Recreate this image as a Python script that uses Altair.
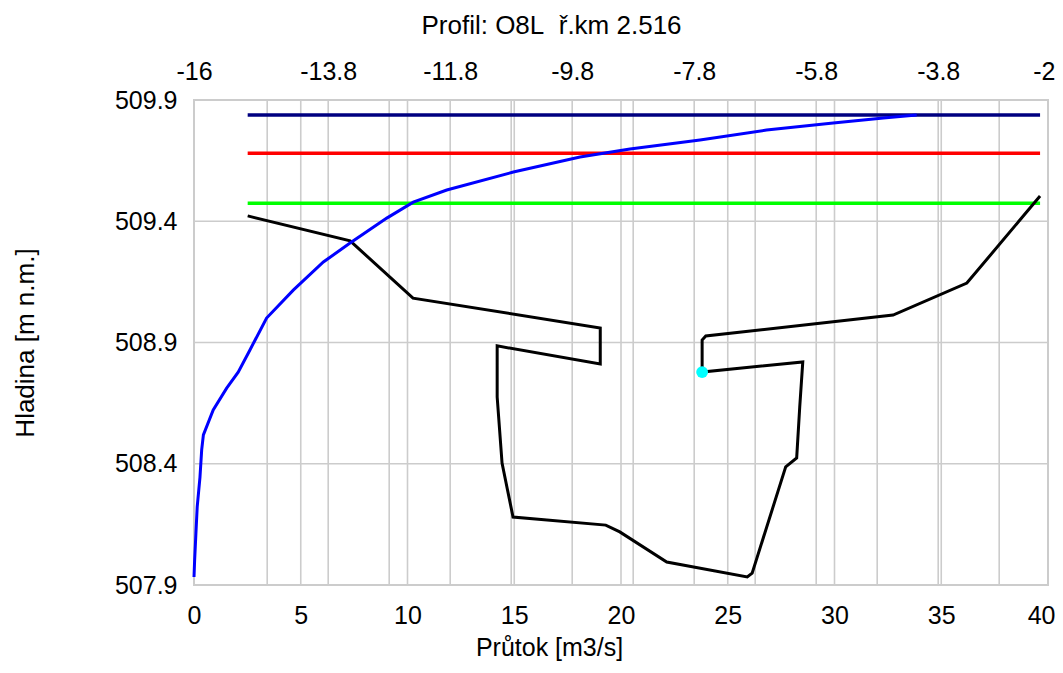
import altair as alt
import pandas as pd

# ---- data ----
# rating curve (bottom axis: discharge Q, left axis: level H)
rating_q = [0.0, 0.03, 0.09, 0.15, 0.28, 0.36, 0.44, 0.90, 1.53, 2.07, 2.62, 3.40, 4.65,
            6.06, 7.31, 9.03, 10.27, 11.84, 14.96, 18.08, 20.42, 23.70, 26.82, 29.94,
            32.29, 33.85]
rating_h = [507.933, 508.003, 508.114, 508.222, 508.345, 508.457, 508.519, 508.622,
            508.712, 508.778, 508.869, 509.001, 509.116, 509.232, 509.310, 509.413,
            509.479, 509.529, 509.603, 509.665, 509.698, 509.735, 509.776, 509.805,
            509.826, 509.838]

# cross-section profile (top axis: station, left axis: elevation)
profile_s = [-15.12, -13.44, -12.41, -9.34, -9.34, -11.03, -11.03, -10.95, -10.77,
             -9.25, -9.02, -8.25, -6.93, -6.85, -6.30, -6.12, -6.07, -6.02, -7.67,
             -7.67, -7.61, -4.54, -3.33, -2.13]
profile_h = [509.422, 509.319, 509.083, 508.960, 508.811, 508.886, 508.675, 508.403,
             508.180, 508.147, 508.119, 507.995, 507.933, 507.949, 508.387, 508.424,
             508.634, 508.820, 508.778, 508.910, 508.927, 509.013, 509.145, 509.504]

# current point
point_s = [-7.67]
point_h = [508.778]

# water levels
level_names = ["navy", "red", "green"]
level_h = [509.838, 509.680, 509.474]
level_colors = ["#000080", "#ff0000", "#00ff00"]
level_s_from = -15.12
level_s_to = -2.13

# axes
q_ticks = [0, 5, 10, 15, 20, 25, 30, 35, 40]
s_ticks = [-16, -13.8, -11.8, -9.8, -7.8, -5.8, -3.8, -2]
h_ticks = [507.9, 508.4, 508.9, 509.4, 509.9]
s_grid = [-14.8, -13.8, -12.8, -11.8, -10.8, -9.8, -8.8, -7.8, -6.8, -5.8, -4.8, -3.8, -2.8]
q_grid = [5, 10, 15, 20, 25, 30, 35]
h_grid = [508.4, 508.9, 509.4]

Q_DOMAIN = [0, 40]
S_DOMAIN = [-16, -2]
H_DOMAIN = [507.9, 509.9]

FONT = "Liberation Sans"
LFS = 25
TFS = 26
GRID = "#cccccc"

qscale = alt.Scale(domain=Q_DOMAIN, nice=False, zero=False)
sscale = alt.Scale(domain=S_DOMAIN, nice=False, zero=False)
hscale = alt.Scale(domain=H_DOMAIN, nice=False, zero=False)

y_axis = alt.Axis(values=h_ticks, format=".1f", title="Hladina [m n.m.]", grid=False,
                  domain=False, ticks=False, labelPadding=17, labelFlush=False,
                  titleX=-169, titleY=242.5,
                  titleAngle=-90, titleBaseline="middle", titleAlign="center")


def Y(field):
    return alt.Y(f"{field}:Q", scale=hscale, axis=y_axis)


bottom_axis = alt.Axis(
    orient="bottom", values=q_ticks, title="Průtok [m3/s]", grid=False,
    domain=False, ticks=False, labelPadding=18, labelFlush=False,
    labelAlign={"condition": {"test": "datum.value == 40", "value": "right"}, "value": "center"},
    labelOffset={"condition": {"test": "datum.value == 40", "value": 7}, "value": 0},
    titleX=355, titleY=62, titleFontSize=25, titleBaseline="middle", titleAlign="center")
top_axis = alt.Axis(
    orient="top", values=s_ticks, title="Profil: O8L\u00a0 ř.km 2.516",
    grid=False, domain=False, ticks=False, labelPadding=16, labelFlush=False,
    labelAlign={"condition": {"test": "datum.value == -2", "value": "right"}, "value": "center"},
    labelOffset={"condition": {"test": "datum.value == -2", "value": 7}, "value": 0},
    labelExpr="'' + datum.value", titleX=357, titleY=-75,
    titleBaseline="middle", titleAlign="center")

df_sgrid = pd.DataFrame({"s": s_grid})
df_qgrid = pd.DataFrame({"q": q_grid})
df_hgrid = pd.DataFrame({"h": h_grid})

grid_top = alt.Chart(df_sgrid).mark_rule(color=GRID, strokeWidth=1.6).encode(
    x=alt.X("s:Q", scale=sscale, axis=top_axis))
grid_bottom = alt.Chart(df_qgrid).mark_rule(color=GRID, strokeWidth=1.6).encode(
    x=alt.X("q:Q", scale=qscale, axis=bottom_axis))
grid_h = alt.Chart(df_hgrid).mark_rule(color=GRID, strokeWidth=1.6).encode(
    y=Y("h"))

df_levels = pd.DataFrame({"name": level_names, "h": level_h,
                          "s1": [level_s_from] * 3, "s2": [level_s_to] * 3})
levels = alt.Chart(df_levels).mark_rule(strokeWidth=3.5).encode(
    x=alt.X("s1:Q", scale=sscale, axis=None),
    x2="s2:Q",
    y=Y("h"),
    color=alt.Color("name:N", scale=alt.Scale(domain=level_names, range=level_colors),
                    legend=None),
)

df_profile = pd.DataFrame({"s": profile_s, "h": profile_h, "i": list(range(len(profile_s)))})
profile = alt.Chart(df_profile).mark_line(color="black", strokeWidth=3).encode(
    x=alt.X("s:Q", scale=sscale, axis=None),
    y=Y("h"),
    order="i:Q",
)

df_point = pd.DataFrame({"s": point_s, "h": point_h})
point = alt.Chart(df_point).mark_circle(color="#00ffff", opacity=1, size=140).encode(
    x=alt.X("s:Q", scale=sscale, axis=None),
    y=Y("h"),
)

df_rating = pd.DataFrame({"q": rating_q, "h": rating_h, "i": list(range(len(rating_q)))})
rating = alt.Chart(df_rating).mark_line(color="#0000ff", strokeWidth=3).encode(
    x=alt.X("q:Q", scale=qscale, axis=None),
    y=Y("h"),
    order="i:Q",
)

chart = alt.layer(grid_top, grid_bottom, grid_h, levels, profile, rating, point).resolve_scale(
    x="independent"
).properties(
    width=854,
    height=485,
    autosize=alt.AutoSizeParams(type="none"),
    padding={"left": 186, "top": 92, "right": 7, "bottom": 80},
    background="white",
).configure_view(
    stroke=GRID, strokeWidth=2
).configure_axis(
    labelFont=FONT, labelFontSize=LFS, labelColor="black",
    titleFont=FONT, titleFontSize=TFS, titleColor="black", titleFontWeight="normal",
)

chart.save("out.html", embed_options={"renderer": "svg", "actions": False})
